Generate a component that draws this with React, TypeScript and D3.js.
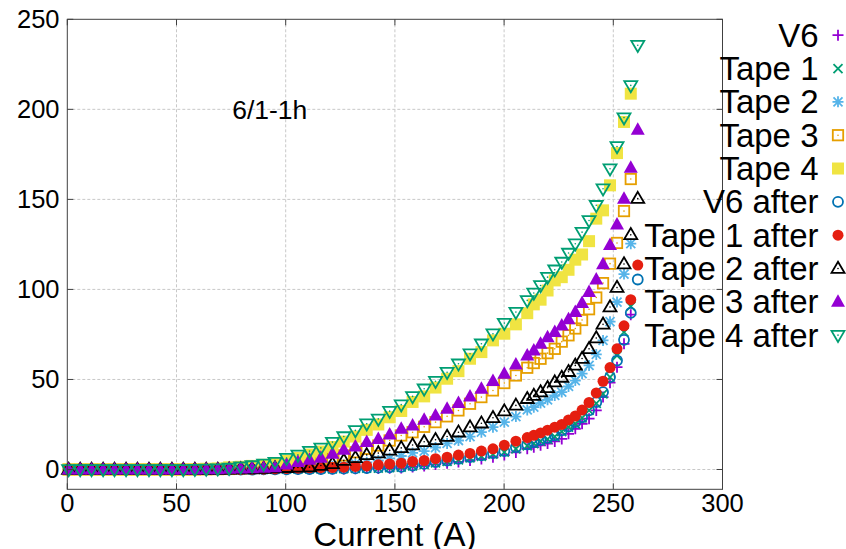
import React, { useEffect, useRef } from 'react';
import * as d3 from 'd3';

const width = 846;
const height = 549;
const plot = { left: 67.3, right: 722.5, top: 19.3, bottom: 489.3 };

// current (A), common to all runs
const current = [0.6, 5.9, 11.1, 16.4, 21.6, 26.9, 32.1, 37.4, 42.6, 47.9, 53.1, 58.4, 63.6, 68.9, 74.1, 79.4, 84.6, 89.9, 95.1, 100.4, 105.6, 110.9, 116.1, 121.4, 126.6, 131.9, 137.1, 142.4, 147.6, 152.9, 158.1, 163.4, 168.6, 173.9, 179.1, 184.4, 189.6, 194.9, 200.1, 205.4, 210.6, 213.6, 216.7, 219.9, 223.2, 226.4, 229.5, 232.6, 235.7, 238.9, 242.2, 245.3, 248.5, 251.7, 254.9, 258.0, 261.2];

const v6 = [0,0,0,0,0,0,0,0,0,0, 0,0,0,0,0,0,0,0,0,0.1, 0.1,0.2,0.2,0.3,0.3,0.4,0.5,0.6,0.7,0.8, 1.4,2.0,2.8,3.4,4.2,5.0,5.8,6.8,8.0,9.5, 11.5,12.4,13.4,14.4,15.6,17.0,19.8,22.6,25.4,28.2, 32.8,40.2,48.2,56.8,69.8,86.0];
const tape1 = [0,0,0,0,0,0,0,0,0,0, 0,0,0,0,0,0,0,0.1,0.1,0.2, 0.2,0.3,0.3,0.4,0.5,0.6,0.7,0.8,1.0,1.3, 2.0,2.8,3.7,4.5,5.4,6.4,7.3,8.5,9.6,11.5, 13.1,14.4,15.7,16.9,18.3,21.0,23.5,25.4,28.7,32.8, 36.7,42.0,51.3,63.3,76.3,90.6];
const tape2 = [0,0,0,0,0,0,0,0,0,0, 0,0,0,0,0,0,0.1,0.2,0.3,0.4, 0.5,0.8,1.2,1.8,2.5,3.2,4.0,5.0,6.2,7.5, 9.2,10.2,12.2,14.5,16.1,18.3,20.7,23.5,26.3,29.4, 33.1,34.6,36.9,38.7,41.1,43.0,46.1,49.4,53.2,57.8, 63.9,71.7,82.1,93.0,108.5,125.4];
const tape3 = [0,0,0,0,0,0,0,0,0,0, 0,0,0.1,0.2,0.3,0.6,1.0,1.5,2.0,2.5, 3.1,4.1,5.0,6.5,7.8,9.6,11.5,13.3,16.1,18.9, 20.7,23.7,26.3,29.5,32.8,36.5,40.2,43.9,48.0,52.2, 56.5,59.1,61.5,64.6,67.0,71.0,74.5,78.3,83.0,89.0, 95.5,103.5,114.3,125.8,143.5,161.3];
const tape4 = [0,0,0,0,0,0,0,0,0,0, 0,0.2,0.4,0.6,1.2,1.5,2.0,2.6,3.5,4.8, 6.5,8.3,10.0,12.5,15.5,18.3,22.0,25.0,29.0,32.5, 37.5,40.6,45.5,50.4,54.6,61.5,65.2,71.7,75.4,80.6, 86.8,91.7,94.3,99.4,105.0,106.8,110.9,116.5,119.4,126.8, 139.3,143.9,157.8,175.7,193.0,208.7];
const v6After = [0,0,0,0,0,0,0,0,0,0, 0,0,0,0,0,0,0,0.1,0.1,0.1, 0.2,0.2,0.2,0.3,0.5,0.6,0.8,1.0,1.2,1.5, 2.2,3.1,4.1,5.0,5.9,6.9,7.8,9.1,10.2,12.4, 13.9,15.2,16.5,17.6,19.0,21.7,23.9,26.3,29.0,32.8, 37.4,43.0,51.3,60.5,72.0,87.0,105.5];
const tape1After = [0,0,0,0,0,0,0,0,0,0, 0,0,0,0,0,0,0.1,0.2,0.3,0.5, 0.7,0.9,1.0,1.1,1.3,1.7,2.0,2.6,3.1,3.5, 4.5,5.0,6.0,6.8,8.0,8.9,10.2,11.5,13.5,15.7, 17.7,19.0,20.3,21.8,23.5,25.0,27.5,29.7,33.0,37.2, 42.5,49.0,56.6,67.0,79.8,94.3,113.5];
const tape2After = [0,0,0,0,0,0,0,0,0,0, 0,0,0,0,0.1,0.2,0.3,0.5,0.8,1.0, 1.2,1.3,2.2,3.1,5.0,6.5,8.1,9.1,10.6,12.0, 13.6,15.4,16.5,18.3,20.7,23.5,25.7,28.7,32.4,35.6, 39.3,41.1,43.0,45.4,48.5,51.1,54.3,57.8,61.6,67.0, 73.0,80.6,90.2,101.0,114.1,130.3,150.4];
const tape3After = [0,0,0,0,0,0,0,0,0,0, 0,0,0.1,0.2,0.4,0.6,0.7,0.9,1.3,2.8, 4.1,5.4,6.5,8.7,10.9,12.8,15.2,17.0,19.4,22.6, 24.4,27.6,30.0,33.7,36.9,40.6,44.8,49.1,53.1,58.3, 63.3,66.1,69.8,73.5,76.3,80.0,83.5,87.4,92.4,98.5, 105.5,114.0,124.6,136.0,150.4,167.5,188.7];
const tape4After = [0,0,0,0,0,0,0,0,0,0, 0,0.2,0.3,0.5,0.8,1.5,2.2,3.1,4.1,6.3, 8.1,10.2,12.0,15.2,18.3,21.7,25.4,28.1,32.4,36.0, 40.6,44.8,49.0,54.0,58.7,64.3,69.8,75.4,81.3,87.4, 93.9,98.0,102.2,106.8,110.9,115.2,120.2,125.4,131.8,138.3, 146.7,155.9,167.0,179.4,195.4,213.3,235.6];

const seriesNames = ['V6', 'Tape 1', 'Tape 2', 'Tape 3', 'Tape 4', 'V6 after', 'Tape 1 after', 'Tape 2 after', 'Tape 3 after', 'Tape 4 after'];
const seriesValues = [v6, tape1, tape2, tape3, tape4, v6After, tape1After, tape2After, tape3After, tape4After];
const seriesColors = ['#9400d3', '#009e73', '#56b4e9', '#e69f00', '#f0e442', '#0072b2', '#e51e10', '#000000', '#9400d3', '#009e73'];
const seriesShapes = ['plus', 'cross', 'star', 'square', 'squareFill', 'circle', 'circleFill', 'triangle', 'triangleFill', 'triangleDown'];

const xTicks = [0, 50, 100, 150, 200, 250, 300];
const yTicks = [0, 50, 100, 150, 200, 250];

const font = '"Liberation Sans", Arial, sans-serif';

function drawMarker(g, shape, color, x, y) {
  const m = g.append('g').attr('transform', `translate(${x},${y})`);
  const sw = 1.8;
  const dot = () => m.append('circle').attr('r', 0.8).attr('fill', color);
  switch (shape) {
    case 'plus':
      m.append('path').attr('d', 'M-5.5,0H5.5M0,-5.5V5.5').attr('stroke', color).attr('stroke-width', sw);
      break;
    case 'cross':
      m.append('path').attr('d', 'M-4.5,-4.5L4.5,4.5M-4.5,4.5L4.5,-4.5').attr('stroke', color).attr('stroke-width', sw);
      break;
    case 'star':
      m.append('path').attr('d', 'M-5.5,0H5.5M0,-5.5V5.5M-4.5,-4.5L4.5,4.5M-4.5,4.5L4.5,-4.5').attr('stroke', color).attr('stroke-width', sw);
      break;
    case 'square':
      m.append('rect').attr('x', -5.2).attr('y', -5.2).attr('width', 10.4).attr('height', 10.4)
        .attr('fill', 'none').attr('stroke', color).attr('stroke-width', sw);
      dot();
      break;
    case 'squareFill':
      m.append('rect').attr('x', -6).attr('y', -6).attr('width', 12).attr('height', 12).attr('fill', color);
      break;
    case 'circle':
      m.append('circle').attr('r', 5).attr('fill', 'none').attr('stroke', color).attr('stroke-width', sw);
      break;
    case 'circleFill':
      m.append('circle').attr('r', 5.5).attr('fill', color);
      break;
    case 'triangle':
      m.append('path').attr('d', 'M0,-6.8L6.5,4.3L-6.5,4.3Z').attr('fill', 'none').attr('stroke', color)
        .attr('stroke-width', sw).attr('stroke-linejoin', 'miter');
      dot();
      break;
    case 'triangleFill':
      m.append('path').attr('d', 'M0,-7.5L7,5L-7,5Z').attr('fill', color);
      break;
    case 'triangleDown':
      m.append('path').attr('d', 'M0,6.8L6.5,-4.3L-6.5,-4.3Z').attr('fill', 'none').attr('stroke', color)
        .attr('stroke-width', sw);
      dot();
      break;
  }
}

export default function App() {
  const ref = useRef(null);

  useEffect(() => {
    const svg = d3.select(ref.current);
    svg.selectAll('*').remove();

    const x = d3.scaleLinear().domain([0, 300]).range([plot.left, plot.right]);
    const y = d3.scaleLinear().domain([-11, 250]).range([plot.bottom, plot.top]);

    // grid
    const grid = svg.append('g').attr('stroke', '#c8c8c8').attr('stroke-width', 1).attr('stroke-dasharray', '3,2');
    xTicks.filter((t) => t > 0 && t < 300).forEach((t) => {
      grid.append('line').attr('x1', x(t)).attr('x2', x(t)).attr('y1', plot.top).attr('y2', plot.bottom);
    });
    yTicks.filter((t) => t < 250).forEach((t) => {
      grid.append('line').attr('x1', plot.left).attr('x2', plot.right).attr('y1', y(t)).attr('y2', y(t));
    });

    // data, drawn series by series so later ones sit on top
    const data = svg.append('g');
    seriesValues.forEach((vals, si) => {
      vals.forEach((v, i) => {
        drawMarker(data, seriesShapes[si], seriesColors[si], x(current[i]), y(v));
      });
    });

    // border and mirrored inward ticks
    const axes = svg.append('g').attr('stroke', '#404040').attr('stroke-width', 1).attr('fill', 'none');
    axes.append('rect').attr('x', plot.left).attr('y', plot.top)
      .attr('width', plot.right - plot.left).attr('height', plot.bottom - plot.top);
    xTicks.forEach((t) => {
      axes.append('line').attr('x1', x(t)).attr('x2', x(t)).attr('y1', plot.bottom).attr('y2', plot.bottom - 6);
      axes.append('line').attr('x1', x(t)).attr('x2', x(t)).attr('y1', plot.top).attr('y2', plot.top + 6);
    });
    yTicks.forEach((t) => {
      axes.append('line').attr('x1', plot.left).attr('x2', plot.left + 6).attr('y1', y(t)).attr('y2', y(t));
      axes.append('line').attr('x1', plot.right).attr('x2', plot.right - 6).attr('y1', y(t)).attr('y2', y(t));
    });

    const labels = svg.append('g').attr('font-family', font).attr('fill', '#000');
    xTicks.forEach((t) => {
      labels.append('text').attr('x', x(t)).attr('y', 512).attr('text-anchor', 'middle')
        .attr('font-size', 25.5).text(t);
    });
    yTicks.forEach((t) => {
      labels.append('text').attr('x', 59.5).attr('y', y(t)).attr('dy', '0.35em').attr('text-anchor', 'end')
        .attr('font-size', 25.5).text(t);
    });
    labels.append('text').attr('x', (plot.left + plot.right) / 2).attr('y', 546).attr('text-anchor', 'middle')
      .attr('font-size', 33).text('Current (A)');
    labels.append('text').attr('x', x(75.5)).attr('y', 119).attr('font-size', 26.5).text('6/1-1h');

    // legend (key) at the top right, text right-aligned before the sample
    const legend = svg.append('g');
    seriesNames.forEach((name, i) => {
      const base = 46.7 + i * 33.33;
      legend.append('text').attr('x', 818.5).attr('y', base).attr('text-anchor', 'end')
        .attr('font-family', font).attr('font-size', 33).attr('fill', '#000').text(name);
      drawMarker(legend, seriesShapes[i], seriesColors[i], 838, base - 11.5);
    });
  }, []);

  return (
    <svg ref={ref} width={width} height={height}
      style={{ position: 'absolute', left: 0, top: 0, background: '#fff' }} />
  );
}
